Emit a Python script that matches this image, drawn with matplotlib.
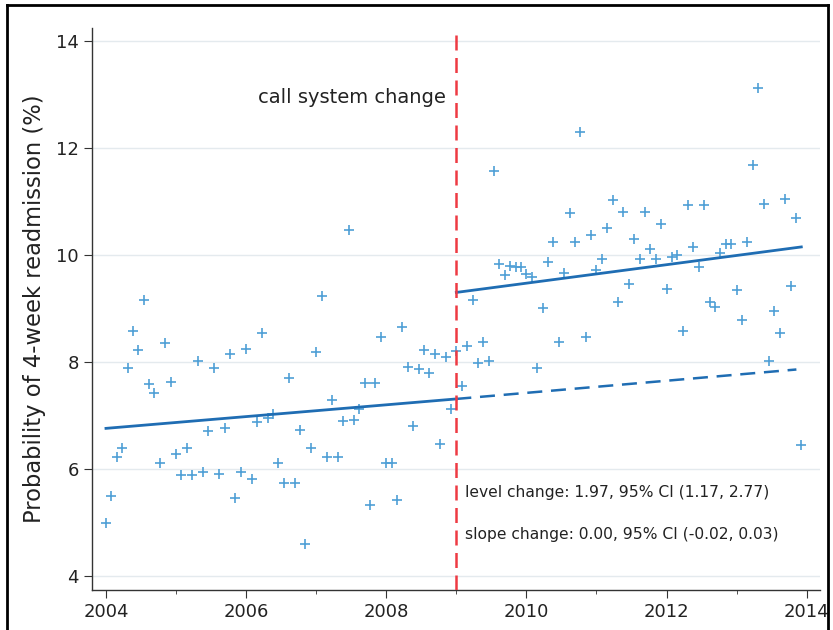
import numpy as np
import matplotlib.pyplot as plt
from matplotlib.lines import Line2D

# 4-week periods, 13 per year, 2004 to end of 2013
periods_per_year = 13
start_year = 2004
change_year = 2009

# observed probability of 4-week readmission (%), pre-change (65 periods)
pre_values = [4.99, 5.50, 6.22, 6.40, 7.88, 8.58, 8.22, 9.16, 7.59, 7.43,
              6.12, 8.36, 7.62, 6.29, 5.88, 6.40, 5.88, 8.02, 5.94, 6.72,
              7.88, 5.91, 6.76, 8.15, 5.46, 5.94, 8.24, 5.81, 6.87, 8.54,
              6.95, 7.02, 6.11, 5.73, 7.71, 5.73, 6.73, 4.60, 6.39, 8.18,
              9.24, 6.22, 7.29, 6.22, 6.90, 10.47, 6.92, 7.13, 7.61, 5.32,
              7.61, 8.46, 6.11, 6.11, 5.43, 8.65, 7.90, 6.80, 7.87, 8.23,
              7.79, 8.15, 6.46, 8.09, 7.13]
# post-change (65 periods)
post_values = [8.21, 7.55, 8.29, 9.15, 7.99, 8.37, 8.02, 11.56, 9.83, 9.63,
               9.79, 9.78, 9.78, 9.64, 9.58, 7.89, 9.01, 9.87, 10.25, 8.37,
               9.66, 10.78, 10.25, 12.29, 8.47, 10.37, 9.72, 9.93, 10.50, 11.03,
               9.12, 10.80, 9.46, 10.29, 9.93, 10.80, 10.11, 9.93, 10.57, 9.36,
               9.96, 9.99, 8.58, 10.93, 10.15, 9.78, 10.93, 9.13, 9.02, 10.04,
               10.21, 10.21, 9.35, 8.79, 10.24, 11.69, 13.12, 10.95, 8.02, 8.95,
               8.55, 11.05, 9.42, 10.69, 6.45]

# fitted segments (start, end values)
pre_fit = [6.76, 7.31]
post_fit = [9.30, 10.15]
counterfactual_fit = [7.31, 7.86]

level_text = "level change: 1.97, 95% CI (1.17, 2.77)"
slope_text = "slope change: 0.00, 95% CI (-0.02, 0.03)"

values = np.array(pre_values + post_values)
t = start_year + np.arange(len(values)) / periods_per_year
n_pre = len(pre_values)
t_pre = t[:n_pre]
t_post = t[n_pre:]

marker_color = '#4f9fd6'
line_color = '#1f6db3'

fig = plt.figure(figsize=(8.33, 6.3), dpi=100)
ax = fig.add_axes([0.1104, 0.0635, 0.874, 0.892])

ax.plot(t, values, linestyle='none', marker='+', ms=7, mew=1.2,
        color=marker_color, zorder=3)

ax.plot([t_pre[0], change_year], pre_fit, color=line_color, lw=2.0, zorder=4)
ax.plot([change_year, t_post[-1]], post_fit, color=line_color, lw=2.0, zorder=4)
ax.plot([change_year, t_post[-1] - 0.07], counterfactual_fit, color=line_color,
        lw=1.8, linestyle=(0, (6, 3.5)), zorder=4)

ax.axvline(change_year, color='#ee3a43', lw=1.8, linestyle=(0, (6, 3)), zorder=5)

ax.text(2008.85, 12.95, "call system change", ha='right', va='center',
        fontsize=14, color='#222222')
ax.text(2009.13, 5.56, level_text, ha='left', va='center', fontsize=11.2,
        color='#222222')
ax.text(2009.13, 4.78, slope_text, ha='left', va='center', fontsize=11.2,
        color='#222222')

ax.set_xlim(2003.8, 2014.19)
ax.set_ylim(3.74, 14.24)
ax.set_yticks([4, 6, 8, 10, 12, 14])
ax.set_xticks([2004, 2006, 2008, 2010, 2012, 2014])
ax.set_xticks([2005, 2007, 2009, 2011, 2013], minor=True)
ax.tick_params(axis='both', which='major', labelsize=13, length=6,
               color='#333333', labelcolor='#222222')
ax.tick_params(axis='x', which='minor', length=3, color='#333333')
ax.grid(axis='y', color='#e4eaee', lw=1.0)
ax.set_axisbelow(True)
for side in ['top', 'right']:
    ax.spines[side].set_visible(False)
for side in ['left', 'bottom']:
    ax.spines[side].set_color('#333333')
    ax.spines[side].set_linewidth(1.0)

ax.set_ylabel("Probability of 4-week readmission (%)", fontsize=16.3,
              color='#222222', labelpad=7)

# frame around the figure
frame_kw = dict(transform=fig.transFigure, color='black', lw=2)
fig.add_artist(Line2D([0.008, 0.994], [0.992, 0.992], **frame_kw))
fig.add_artist(Line2D([0.008, 0.008], [0.0, 0.992], **frame_kw))
fig.add_artist(Line2D([0.994, 0.994], [0.0, 0.992], **frame_kw))

fig.savefig('out.png', dpi=100)
